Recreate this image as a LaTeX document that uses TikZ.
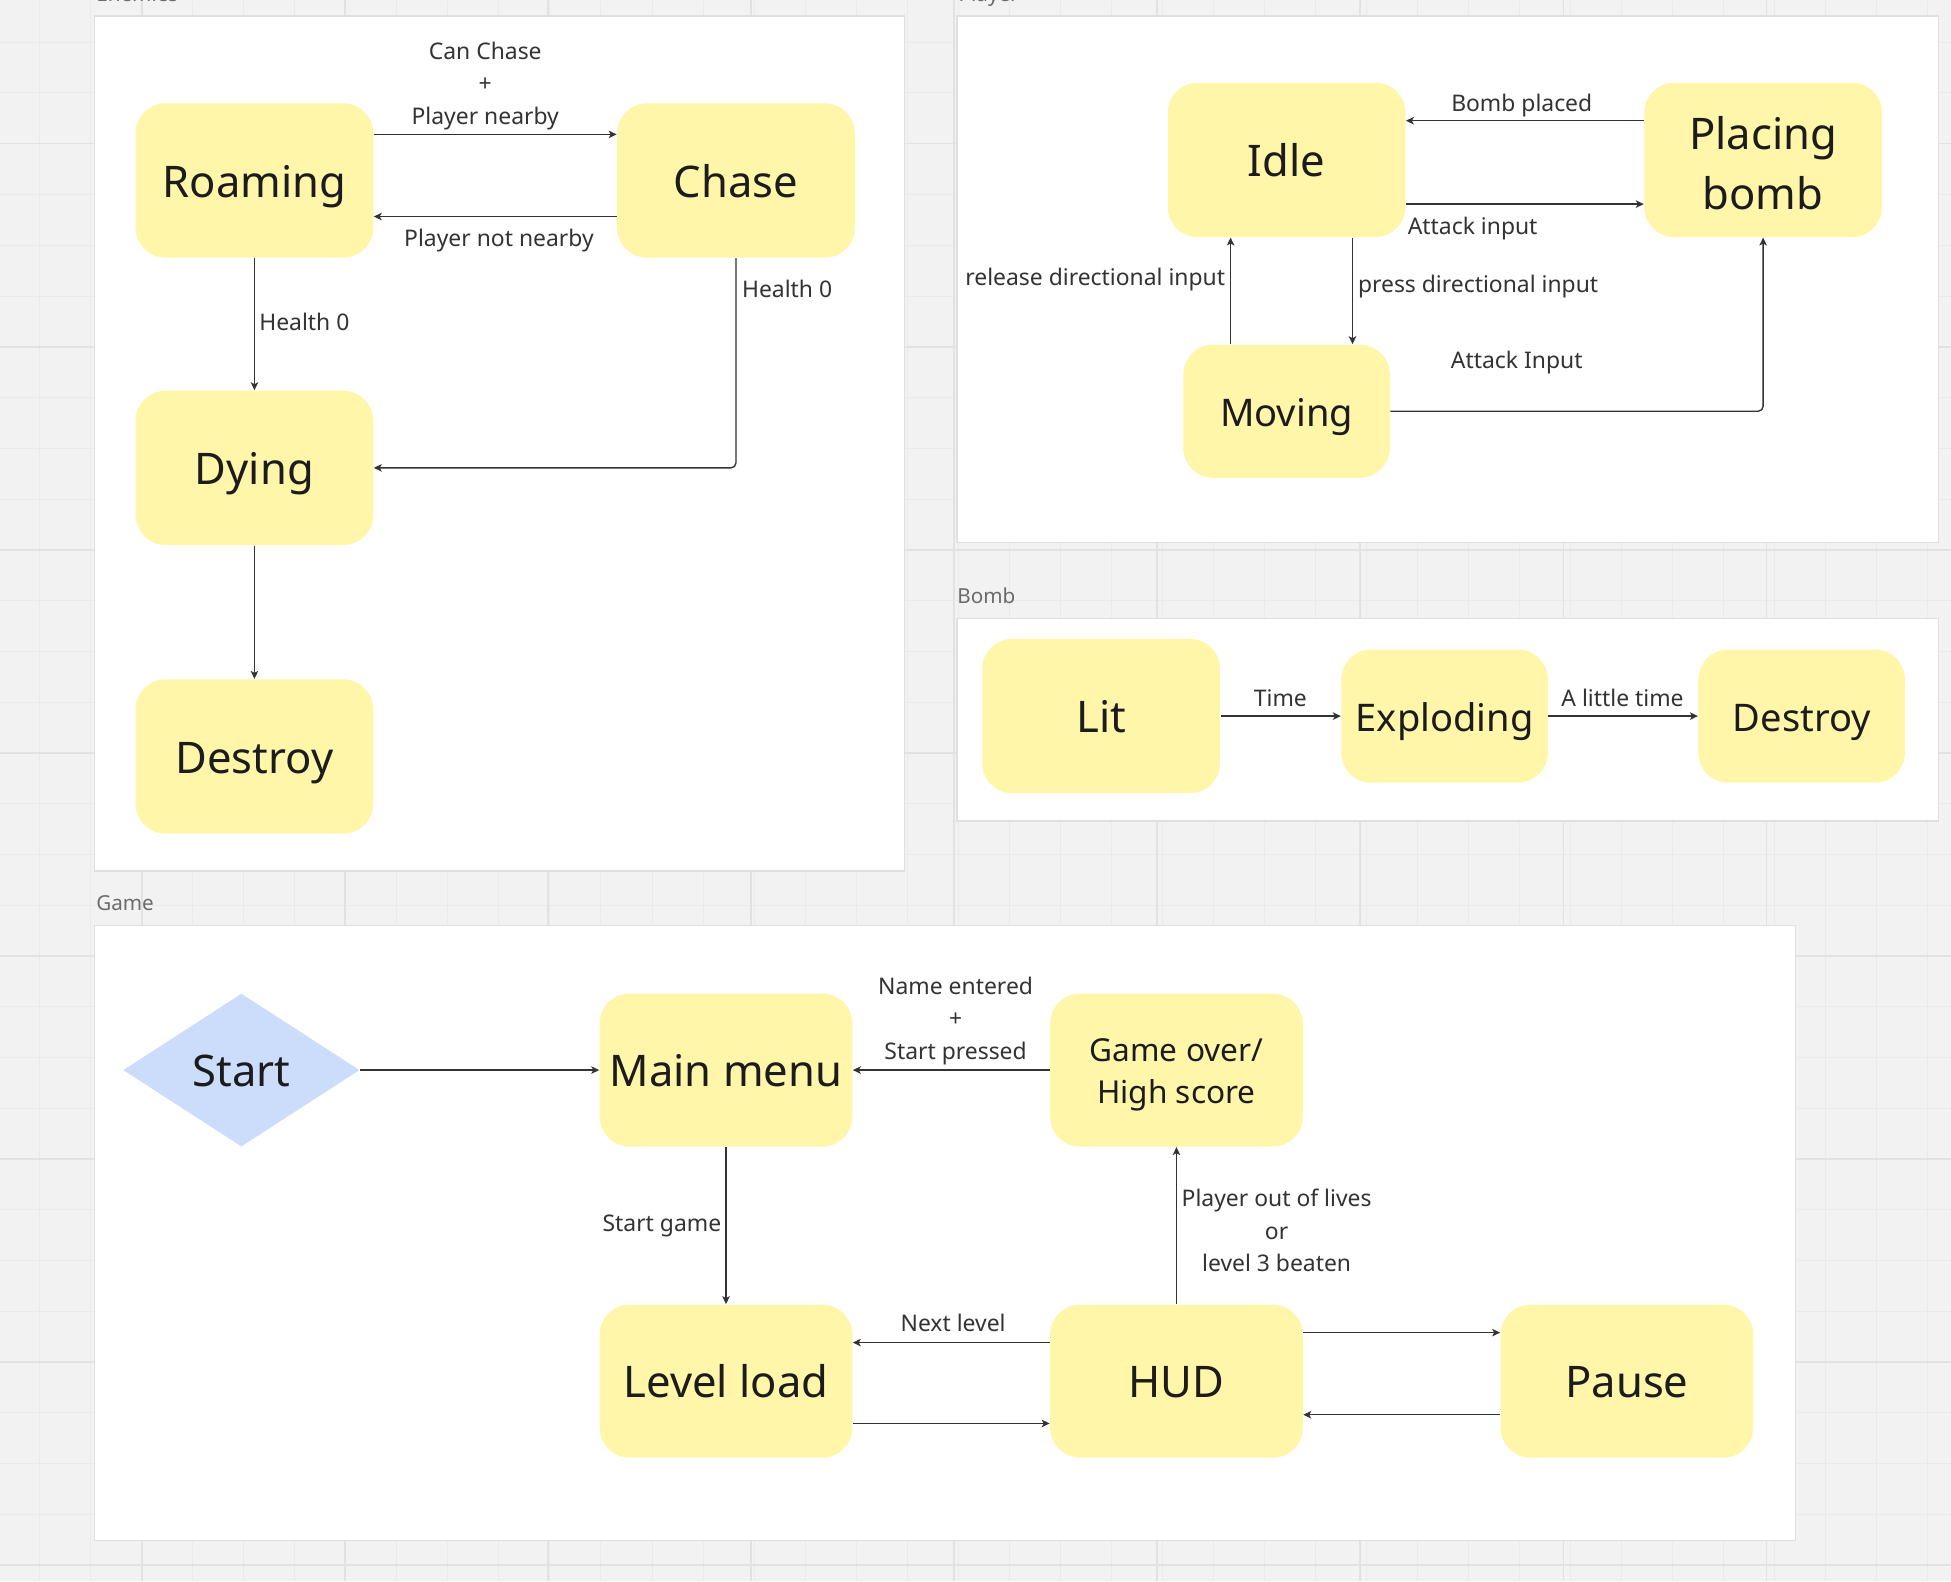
\documentclass[tikz,border=0pt]{standalone}
\usepackage{fontspec}
\setmainfont{Noto Sans}
\usetikzlibrary{arrows.meta,shapes.geometric}
\definecolor{bgc}{HTML}{F2F2F2}
\definecolor{gridminor}{HTML}{EAEAEA}
\definecolor{gridmajor}{HTML}{E2E2E2}
\definecolor{panelc}{HTML}{DFDFDF}
\definecolor{yfill}{HTML}{FFF6AA}
\definecolor{bfill}{HTML}{CCDCFB}
\definecolor{txt}{HTML}{1C1C1C}
\definecolor{lblc}{HTML}{333333}
\definecolor{titlec}{HTML}{6B6B6B}
\definecolor{linec}{HTML}{333333}
\begin{document}
\begin{tikzpicture}[x=0.5pt,y=-0.5pt,
  state/.style={fill=yfill, rounded corners=12pt, inner sep=0pt, align=center, text=txt, text depth=0pt},
  multi/.style={text height=, text depth=},
  bigst/.style={state, minimum width=95.5pt, minimum height=62pt, text height=13.5pt,
                font=\fontsize{17.5}{24}\selectfont},
  smallst/.style={state, minimum width=83pt, minimum height=53.5pt, text height=12.2pt,
                  font=\fontsize{15.3}{20}\selectfont},
  gamest/.style={state, minimum width=101.5pt, minimum height=61.5pt, text height=13.5pt,
                 font=\fontsize{17.5}{24}\selectfont},
  lbl/.style={font=\fontsize{9.2}{13}\selectfont, text=lblc, inner sep=0pt, align=center,
              text height=7.4pt, text depth=0pt},
  arr/.style={draw=linec, line width=0.55pt, rounded corners=2pt,
              -{Stealth[length=3.2pt, width=3pt, inset=0.8pt]}},
  panel/.style={fill=white, draw=panelc, line width=0.6pt},
  ptitle/.style={font=\fontsize{8.3}{10}\selectfont, text=titlec, inner sep=0pt}
]
\useasboundingbox (0,0) rectangle (1568,1271);
\clip (0,0) rectangle (1568,1271);
% background and grid
\fill[bgc] (0,0) rectangle (1568,1271);
\foreach \i in {0,...,38} {
  \draw[gridminor, line width=0.4pt] ({32+41*\i},0) -- ({32+41*\i},1271);
}
\foreach \i in {0,...,31} {
  \draw[gridminor, line width=0.4pt] (0,{33.9+40.8*\i}) -- (1568,{33.9+40.8*\i});
}
\foreach \i in {0,...,9} {
  \draw[gridmajor, line width=0.6pt] ({114+163.2*\i},0) -- ({114+163.2*\i},1271);
}
\foreach \i in {0,...,7} {
  \draw[gridmajor, line width=0.6pt] (0,{115.5+163.2*\i}) -- (1568,{115.5+163.2*\i});
}
% panels
\draw[panel] (76,13) rectangle (727,700);
\draw[panel] (769,13) rectangle (1558,436);
\draw[panel] (769,497) rectangle (1558,660);
\draw[panel] (76,744) rectangle (1443,1238);
\node[ptitle, anchor=base west] (tEnemies) at (77,1.5) {Enemies};
\node[ptitle, anchor=base west] (tPlayer) at (770,1.5) {Player};
\node[ptitle, anchor=west] (tBomb) at (769,479) {Bomb};
\node[ptitle, anchor=west] (tGame) at (77,725.5) {Game};

% ===== Enemies =====
\node[bigst] (roam) at (204.5,145) {Roaming};
\node[bigst] (chase) at (591.5,145) {Chase};
\node[bigst] (dying) at (204.5,376) {Dying};
\node[bigst] (edestroy) at (204.5,608) {Destroy};
\draw[arr] ([yshift=18.5pt]roam.east) -- ([yshift=18.5pt]chase.west);
\draw[arr] ([yshift=-14.5pt]chase.west) -- ([yshift=-14.5pt]roam.east);
\draw[arr] (roam.south) -- (dying.north);
\draw[arr] (chase.south) |- (dying.east);
\draw[arr] (dying.south) -- (edestroy.north);
\node[lbl, multi] (lcc) at (390,69) {Can Chase\\+\\Player nearby};
\node[lbl] (lpn) at (401,191) {Player not nearby};
\node[lbl, anchor=west] (lh1) at (208,258) {Health 0};
\node[lbl, anchor=west] (lh2) at (596,232) {Health 0};

% ===== Player =====
\node[bigst] (idle) at (1034,128.5) {Idle};
\node[bigst, multi] (placing) at (1417,128.5) {\rule{0pt}{15.8pt}Placing\\bomb};
\node[smallst] (moving) at (1034,330.5) {Moving};
\draw[arr] ([yshift=15.75pt]placing.west) -- ([yshift=15.75pt]idle.east);
\draw[arr] ([yshift=-17.75pt]idle.east) -- ([yshift=-17.75pt]placing.west);
\draw[arr] ([xshift=-22.5pt]moving.north) -- ([xshift=-22.5pt]idle.south);
\draw[arr] ([xshift=26.5pt]idle.south) -- ([xshift=26.5pt]moving.north);
\draw[arr] (moving.east) -| (placing.south);
\node[lbl] (lbp) at (1223,82) {Bomb placed};
\node[lbl, anchor=west] (lai) at (1131,181) {Attack input};
\node[lbl, anchor=east] (lrd) at (985,222) {release directional input};
\node[lbl, anchor=west] (lpd) at (1091,228) {press directional input};
\node[lbl] (lAI) at (1219,289) {Attack Input};

% ===== Bomb =====
\node[bigst] (lit) at (885,575.5) {Lit};
\node[smallst] (expl) at (1161,575.5) {Exploding};
\node[smallst] (bdestroy) at (1448,575.5) {Destroy};
\draw[arr] (lit.east) -- (expl.west);
\draw[arr] (expl.east) -- (bdestroy.west);
\node[lbl] (ltime) at (1029,560) {Time};
\node[lbl] (lalt) at (1304,560) {A little time};

% ===== Game =====
\node[diamond, fill=bfill, inner sep=0pt, minimum width=95pt, minimum height=61.5pt, aspect=1.545,
      text=txt, font=\fontsize{17.5}{24}\selectfont, text height=13.5pt, text depth=0pt] (start) at (194,860) {Start};
\node[gamest] (menu) at (583.5,860) {Main menu};
\node[gamest, multi, font=\fontsize{12.7}{17}\selectfont] (over) at (945.5,860) {\rule{0pt}{13.1pt}Game over/\\High score};
\node[gamest] (level) at (583.5,1110) {Level load};
\node[gamest] (hud) at (945.5,1110) {HUD};
\node[gamest] (pause) at (1307.5,1110) {Pause};
\draw[arr] (start.east) -- (menu.west);
\draw[arr] (over.west) -- (menu.east);
\draw[arr] (menu.south) -- (level.north);
\draw[arr] ([yshift=15.5pt]hud.west) -- ([yshift=15.5pt]level.east);
\draw[arr] ([yshift=-17pt]level.east) -- ([yshift=-17pt]hud.west);
\draw[arr] (hud.north) -- (over.south);
\draw[arr] ([yshift=19.5pt]hud.east) -- ([yshift=19.5pt]pause.west);
\draw[arr] ([yshift=-13.5pt]pause.west) -- ([yshift=-13.5pt]hud.east);
\node[lbl, multi] (lne) at (768,820.5) {Name entered\\+\\Start pressed};
\node[lbl, anchor=east] (lsg) at (580,982) {Start game};
\node[lbl] (lnl) at (766,1063) {Next level};
\node[lbl, multi] (lpo) at (1026,989) {Player out of lives\\or\\level 3 beaten};
\end{tikzpicture}
\end{document}
